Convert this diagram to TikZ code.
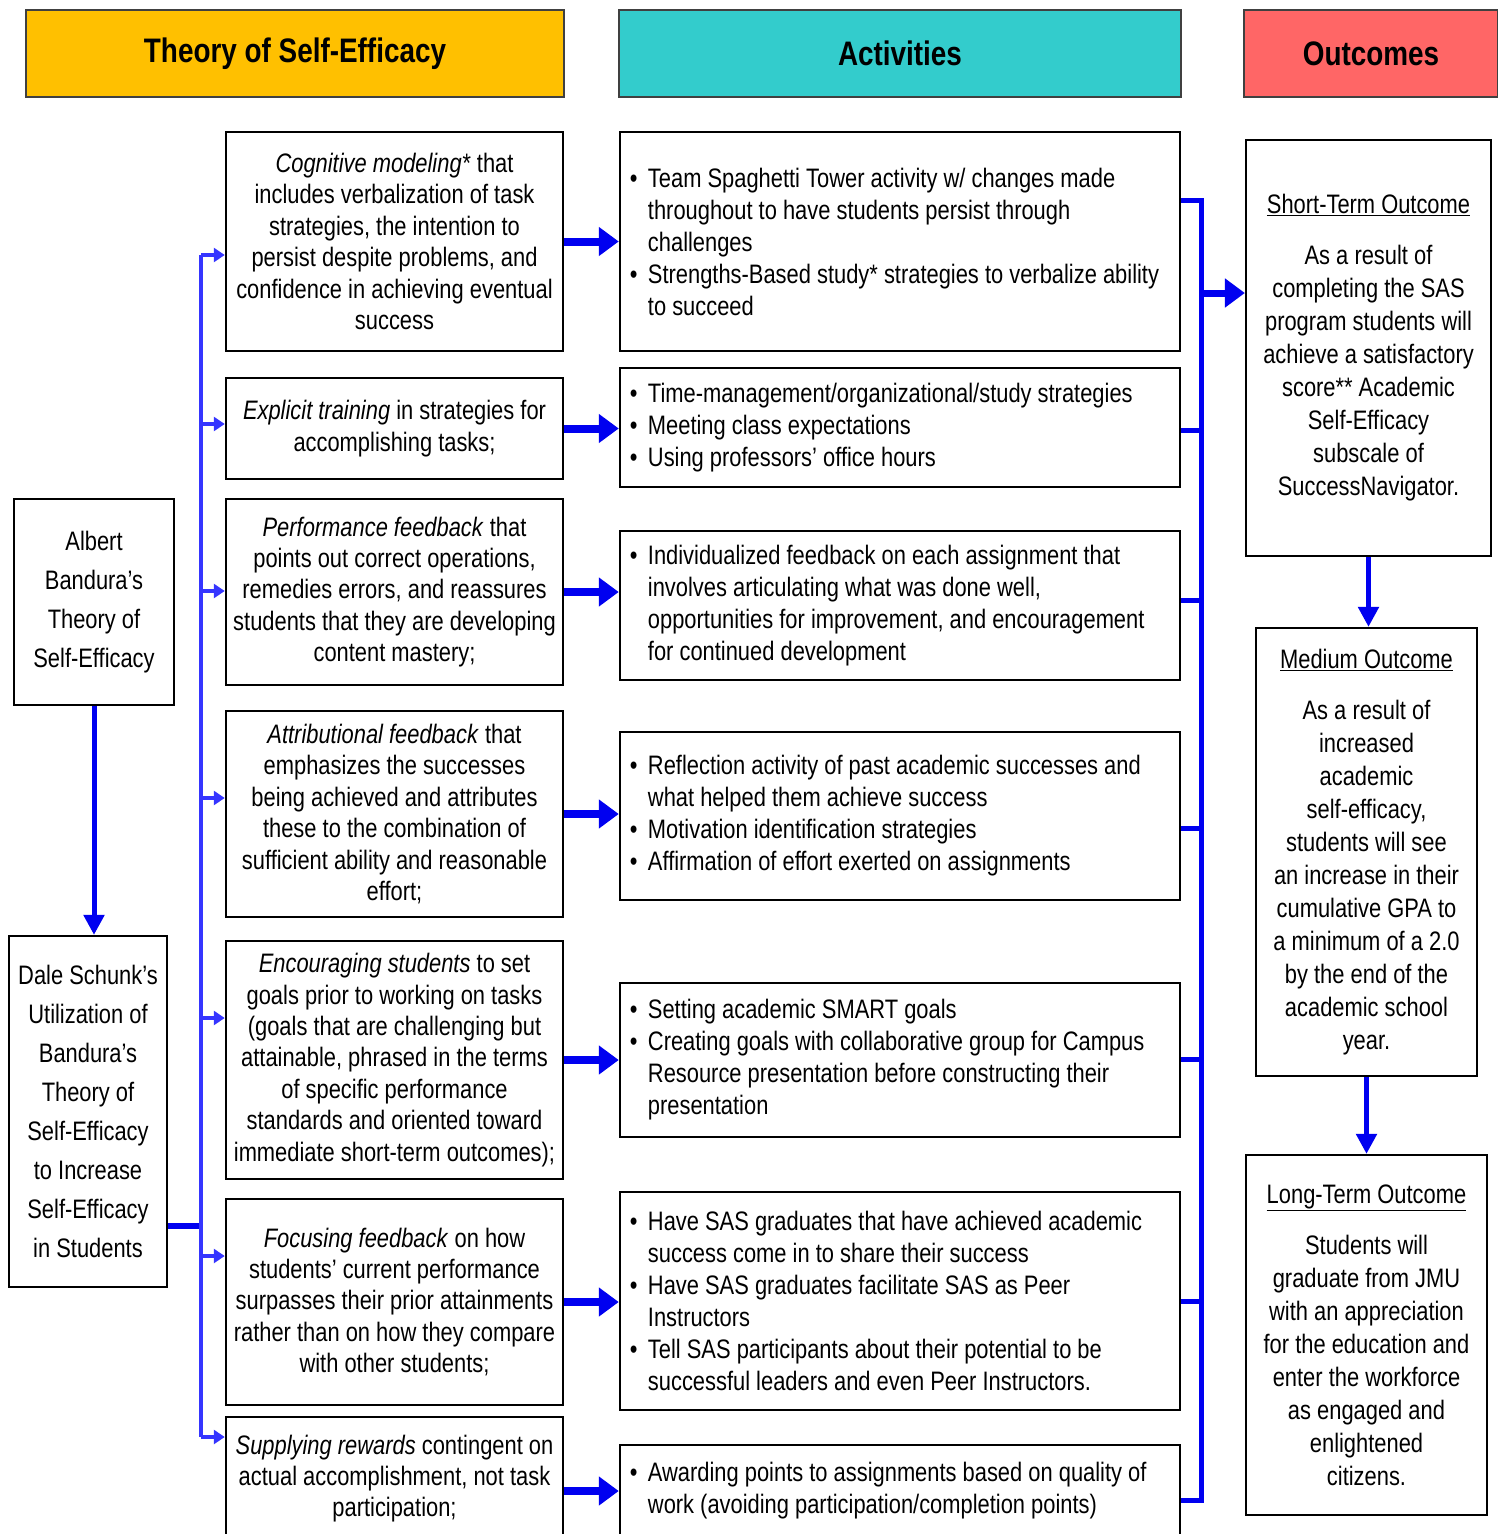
\documentclass[tikz,border=0pt]{standalone}
\usepackage{fontspec}
\setmainfont{Liberation Sans}[FakeStretch=0.82]
\usepackage{tikz}
\usetikzlibrary{arrows.meta}
\pgfdeclarelayer{edgelayer}
\pgfdeclarelayer{nodelayer}
\pgfsetlayers{edgelayer,nodelayer,main}
\definecolor{hdrgold}{HTML}{FFC000}
\definecolor{hdrteal}{HTML}{33CCCC}
\definecolor{hdrred}{HTML}{FF6666}
\definecolor{linkblue}{HTML}{0000F0}
\definecolor{thinblue}{HTML}{3535FF}
\newcommand{\abul}{\makebox[18pt][l]{\textbullet}}
\newcommand{\aind}{\hspace*{18pt}}
\tikzstyle{hdr}=[draw=black!75,line width=1.2pt,minimum height=87pt,inner sep=0pt,font=\fontsize{34}{40}\selectfont\bfseries]
\tikzstyle{tbox}=[draw=black,line width=2.5pt,inner sep=0pt,align=center,font=\fontsize{26.7}{31.4}\selectfont]
\tikzstyle{abox}=[draw=black,line width=2.5pt,inner sep=0pt,minimum width=560pt]
\tikzstyle{atext}=[anchor=west,align=left,inner sep=0pt,font=\fontsize{26.7}{32}\selectfont]
\tikzstyle{obox}=[draw=black,line width=2.2pt,inner sep=0pt,align=center,font=\fontsize{26.7}{33}\selectfont]
\tikzstyle{lbox}=[draw=black,line width=2.2pt,inner sep=0pt,align=center,font=\fontsize{26.7}{39}\selectfont]
\tikzstyle{bigarrow}=[-{Triangle[length=20pt,width=28pt]},draw=linkblue,line width=8pt]
\tikzstyle{downarrow}=[-{Triangle[length=20pt,width=20pt]},draw=linkblue,line width=5pt]
\tikzstyle{smallarrow}=[-{Triangle[length=11pt,width=14pt]},draw=thinblue,line width=3.5pt]
\tikzstyle{busline}=[-,draw=linkblue,line width=5pt]
\tikzstyle{busthin}=[-,draw=thinblue,line width=4pt]
\begin{document}
\begin{tikzpicture}[x=1pt,y=-1pt]
	\useasboundingbox (0,0) rectangle (1497,1534);
	\begin{pgfonlayer}{nodelayer}
		\node [hdr,fill=hdrgold,minimum width=538pt] (0) at (295,53.5) {Theory of Self-Efficacy};
		\node [hdr,fill=hdrteal,minimum width=562pt] (1) at (900,53.5) {Activities};
		\node [hdr,fill=hdrred,minimum width=254pt] (2) at (1371,53.5) {Outcomes};
		\node [lbox,minimum width=160pt,minimum height=206pt] (3) at (94,602) {Albert\\Bandura’s\\Theory of\\Self-Efficacy};
		\node [lbox,minimum width=158pt,minimum height=351pt] (4) at (88,1111.5) {Dale Schunk’s\\Utilization of\\Bandura’s\\Theory of\\Self-Efficacy\\to Increase\\Self-Efficacy\\in Students};
		\node [tbox,minimum width=337pt,minimum height=219pt] (5) at (394.5,241.5) {\textit{Cognitive modeling*} that\\includes verbalization of task\\strategies, the intention to\\persist despite problems, and\\confidence in achieving eventual\\success};
		\node [tbox,minimum width=337pt,minimum height=101pt] (6) at (394.5,428.5) {\textit{Explicit training} in strategies for\\accomplishing tasks;};
		\node [tbox,minimum width=337pt,minimum height=186pt] (7) at (394.5,592) {\textit{Performance feedback} that\\points out correct operations,\\remedies errors, and reassures\\students that they are developing\\content mastery;};
		\node [tbox,minimum width=337pt,minimum height=206pt] (8) at (394.5,814) {\textit{Attributional feedback} that\\emphasizes the successes\\being achieved and attributes\\these to the combination of\\sufficient ability and reasonable\\effort;};
		\node [tbox,minimum width=337pt,minimum height=238pt] (9) at (394.5,1060) {\textit{Encouraging students} to set\\goals prior to working on tasks\\(goals that are challenging but\\attainable, phrased in the terms\\of specific performance\\standards and oriented toward\\immediate short-term outcomes);};
		\node [tbox,minimum width=337pt,minimum height=206pt] (10) at (394.5,1302) {\textit{Focusing feedback} on how\\students’ current performance\\surpasses their prior attainments\\rather than on how they compare\\with other students;};
		\node [tbox,minimum width=337pt,minimum height=123pt] (11) at (394.5,1478.5) {\textit{Supplying rewards} contingent on\\actual accomplishment, not task\\participation;};
		\node [abox,minimum height=219pt] (12) at (900,241.5) {};
		\node [abox,minimum height=119pt] (13) at (900,427.5) {};
		\node [abox,minimum height=149pt] (14) at (900,605.5) {};
		\node [abox,minimum height=168pt] (15) at (900,816) {};
		\node [abox,minimum height=154pt] (16) at (900,1060) {};
		\node [abox,minimum height=218pt] (17) at (900,1301) {};
		\node [abox,minimum height=92pt] (18) at (900,1491) {};
		\node [atext] (19) at ([xshift=11pt]12.west) {\abul Team Spaghetti Tower activity w/ changes made\\\aind throughout to have students persist through\\\aind challenges\\\abul Strengths-Based study* strategies to verbalize ability\\\aind to succeed};
		\node [atext] (20) at ([xshift=11pt]13.west) {\abul Time-management/organizational/study strategies\\\abul Meeting class expectations\\\abul Using professors’ office hours};
		\node [atext] (21) at ([xshift=11pt]14.west) {\abul Individualized feedback on each assignment that\\\aind involves articulating what was done well,\\\aind opportunities for improvement, and encouragement\\\aind for continued development};
		\node [atext] (22) at ([xshift=11pt]15.west) {\abul Reflection activity of past academic successes and\\\aind what helped them achieve success\\\abul Motivation identification strategies\\\abul Affirmation of effort exerted on assignments};
		\node [atext] (23) at ([xshift=11pt]16.west) {\abul Setting academic SMART goals\\\abul Creating goals with collaborative group for Campus\\\aind Resource presentation before constructing their\\\aind presentation};
		\node [atext] (24) at ([xshift=11pt]17.west) {\abul Have SAS graduates that have achieved academic\\\aind success come in to share their success\\\abul Have SAS graduates facilitate SAS as Peer\\\aind Instructors\\\abul Tell SAS participants about their potential to be\\\aind successful leaders and even Peer Instructors.};
		\node [atext] (25) at ([xshift=11pt]18.west) {\abul Awarding points to assignments based on quality of\\\aind work (avoiding participation/completion points)};
		\node [obox,minimum width=245pt,minimum height=416pt] (26) at (1368.5,348) {\underline{Short-Term Outcome}\\[18pt]As a result of\\completing the SAS\\program students will\\achieve a satisfactory\\score** Academic\\Self-Efficacy\\subscale of\\SuccessNavigator.};
		\node [obox,minimum width=221pt,minimum height=448pt] (27) at (1366.5,852) {\underline{Medium Outcome}\\[18pt]As a result of\\increased\\academic\\self-efficacy,\\students will see\\an increase in their\\cumulative GPA to\\a minimum of a 2.0\\by the end of the\\academic school\\year.};
		\node [obox,minimum width=241pt,minimum height=360pt] (28) at (1366.5,1335) {\underline{Long-Term Outcome}\\[18pt]Students will\\graduate from JMU\\with an appreciation\\for the education and\\enter the workforce\\as engaged and\\enlightened\\citizens.};
		\coordinate (29) at (201,255);
		\coordinate (30) at (201,424);
		\coordinate (31) at (201,591);
		\coordinate (32) at (201,798);
		\coordinate (33) at (201,1018);
		\coordinate (34) at (201,1256);
		\coordinate (35) at (201,1437);
		\coordinate (36) at (201,1226);
		\coordinate (37) at (1201,200);
		\coordinate (38) at (1201,430);
		\coordinate (39) at (1201,600);
		\coordinate (40) at (1201,828);
		\coordinate (41) at (1201,1059);
		\coordinate (42) at (1201,1301);
		\coordinate (43) at (1201,1500);
		\coordinate (44) at (1201,293);
	\end{pgfonlayer}
	\begin{pgfonlayer}{edgelayer}
		\draw [downarrow] (3.south) to (3.south |- 4.north);
		\draw [busline, line width=6pt] (4.east |- 36) to (36);
		\draw [busthin] (29) to (35);
		\foreach \p/\b in {29/5,30/6,31/7,32/8,33/9,34/10,35/11}
			\draw [smallarrow] (\p) to (\p -| \b.west);
		\foreach \t/\a in {5/12,6/13,7/14,8/15,9/16,10/17}
			\draw [bigarrow] (\t.east) to (\t.east -| \a.west);
		\draw [bigarrow] (11.east |- 18.west) to (18.west);
		\draw [busline] (12.east |- 37) -- (37) -- (43) -- (18.east |- 43);
		\foreach \r/\a in {38/13,39/14,40/15,41/16,42/17}
			\draw [busline] (\a.east |- \r) to (\r);
		\draw [bigarrow, line width=7pt] (44) to (44 -| 26.west);
		\draw [downarrow] (26.south) to (26.south |- 27.north);
		\draw [downarrow] (27.south) to (27.south |- 28.north);
	\end{pgfonlayer}
\end{tikzpicture}
\end{document}
